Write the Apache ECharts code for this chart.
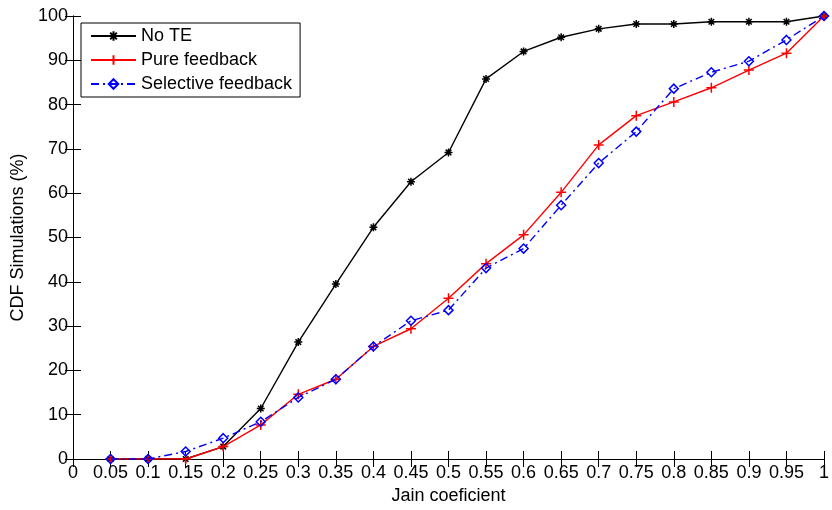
<!DOCTYPE html>
<html>
<head>
<meta charset="utf-8">
<script src="https://cdn.jsdelivr.net/npm/echarts@6/dist/echarts.min.js"></script>
<style>html,body{margin:0;padding:0;background:#fff}#c{width:832px;height:510px}</style>
</head>
<body>
<div id="c"></div>
<script>
var xValues = [0.05,0.1,0.15,0.2,0.25,0.3,0.35,0.4,0.45,0.5,0.55,0.6,0.65,0.7,0.75,0.8,0.85,0.9,0.95,1];
var noTE = [0,0,0,2.8,11.4,26.4,39.5,52.3,62.6,69.2,85.8,92.0,95.2,97.1,98.2,98.2,98.7,98.7,98.7,100];
var pureFeedback = [0,0,0,2.8,7.7,14.6,18.0,25.4,29.4,36.3,44.1,50.6,60.2,70.9,77.5,80.6,83.8,87.8,91.6,100];
var selectiveFeedback = [0,0,1.7,4.7,8.4,13.9,18.0,25.4,31.2,33.6,43.1,47.5,57.3,66.8,73.9,83.6,87.3,89.8,94.6,100];
var seriesNames = ['No TE','Pure feedback','Selective feedback'];
var xName = 'Jain coeficient';
var yName = 'CDF Simulations (%)';

function pairs(v){ return xValues.map(function(x,i){ return [x, v[i]]; }); }

var FONT = 'Liberation Sans, Arial, sans-serif';
var starPath = 'path://M0,-10L0,10M-10,0L10,0M-7,-7L7,7M-7,7L7,-7';
var plusPath = 'path://M0,-10L0,10M-10,0L10,0';

var axisCommon = {
  axisLine:{show:true,lineStyle:{color:'#000',width:1}},
  axisTick:{show:true,inside:true,length:8,lineStyle:{color:'#000',width:1}},
  splitLine:{show:false}
};

var chart = echarts.init(document.getElementById('c'));
chart.setOption({
  animation:false,
  backgroundColor:'#fff',
  grid:{left:73,right:4,top:16,bottom:50,containLabel:false},
  legend:{
    orient:'vertical',left:81,top:23,
    backgroundColor:'#fff',borderColor:'#000',borderWidth:1,
    padding:[3,8,3,9],itemGap:4,itemWidth:45,itemHeight:12,
    textStyle:{fontFamily:FONT,fontSize:18,color:'#000',lineHeight:20},
    data:seriesNames
  },
  xAxis:[
    Object.assign({type:'value',min:0,max:1,interval:0.05,position:'bottom',
      name:xName,nameLocation:'middle',nameGap:28,
      nameTextStyle:{fontFamily:FONT,fontSize:18,color:'#000'},
      axisLabel:{fontFamily:FONT,fontSize:18,color:'#000',margin:5,
        formatter:function(v){return String(+v.toFixed(2));}}
    }, axisCommon),
    Object.assign({type:'value',min:0,max:1,interval:0.05,position:'top',
      axisLabel:{show:false}}, axisCommon)
  ],
  yAxis:[
    Object.assign({type:'value',min:0,max:100,interval:10,position:'left',
      name:yName,nameLocation:'middle',nameGap:43,
      nameTextStyle:{fontFamily:FONT,fontSize:18,color:'#000'},
      axisLabel:{fontFamily:FONT,fontSize:18,color:'#000',margin:5}
    }, axisCommon),
    Object.assign({type:'value',min:0,max:100,interval:10,position:'right',
      axisLabel:{show:false}}, axisCommon)
  ],
  series:[
    {name:seriesNames[0],type:'line',data:pairs(noTE),
      symbol:starPath,symbolSize:8,showAllSymbol:true,
      lineStyle:{color:'#000',width:1.4},
      itemStyle:{color:'#000',borderColor:'#000',borderWidth:1.5},
      z:3},
    {name:seriesNames[1],type:'line',data:pairs(pureFeedback),
      symbol:plusPath,symbolSize:10,showAllSymbol:true,
      lineStyle:{color:'#ff0000',width:1.4},
      itemStyle:{color:'#ff0000',borderColor:'#ff0000',borderWidth:1.5},
      z:4},
    {name:seriesNames[2],type:'line',data:pairs(selectiveFeedback),
      symbol:'diamond',symbolSize:9,showAllSymbol:true,
      lineStyle:{color:'#0000ff',width:1.4,type:[8,4,2,4]},
      itemStyle:{color:'rgba(255,255,255,0)',borderColor:'#0000ff',borderWidth:1.5},
      z:5}
  ]
});
</script>
</body>
</html>
